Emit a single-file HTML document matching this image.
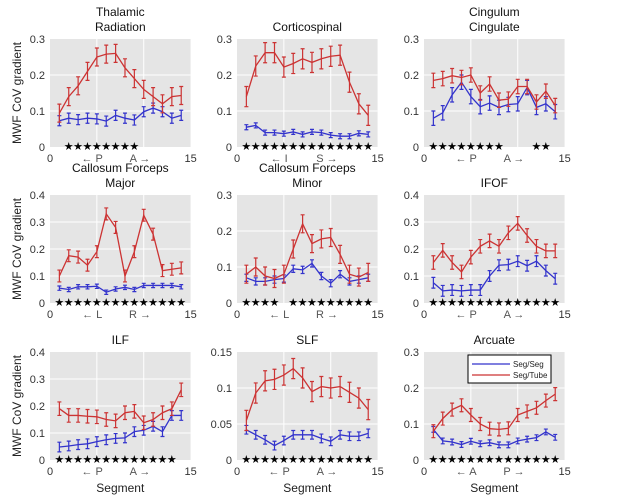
<!DOCTYPE html>
<html><head><meta charset="utf-8"><style>
body{margin:0;background:#fff}
svg{display:block;font-family:"Liberation Sans",sans-serif}
</style></head><body>
<svg id="fig" width="620" height="500" viewBox="0 0 620 500"></svg>
<script>
const titles=[["Thalamic","Radiation"],["Corticospinal"],["Cingulum","Cingulate"],["Callosum Forceps","Major"],["Callosum Forceps","Minor"],["IFOF"],["ILF"],["SLF"],["Arcuate"]];
const yMax=[0.3,0.3,0.3,0.4,0.3,0.4,0.4,0.15,0.3];
const yTicks=[["0","0.1","0.2","0.3"],["0","0.1","0.2","0.3"],["0","0.1","0.2","0.3"],["0","0.1","0.2","0.3","0.4"],["0","0.1","0.2","0.3"],["0","0.1","0.2","0.3","0.4"],["0","0.1","0.2","0.3","0.4"],["0","0.05","0.1","0.15"],["0","0.1","0.2","0.3"]];
const dirLabels=[["← P","A →"],["← I","S →"],["← P","A →"],["← L","R →"],["← L","R →"],["← P","A →"],["← P","A →"],["← P","A →"],["← A","P →"]];
const segments=[1,2,3,4,5,6,7,8,9,10,11,12,13,14];
const redVals=[
[0.094,0.14,0.17,0.21,0.25,0.258,0.26,0.22,0.19,0.16,0.14,0.12,0.14,0.143],
[0.14,0.225,0.262,0.262,0.222,0.232,0.245,0.235,0.245,0.252,0.255,0.18,0.12,0.088],
[0.185,0.19,0.198,0.193,0.2,0.15,0.175,0.13,0.133,0.168,0.168,0.125,0.155,0.115],
[0.1,0.175,0.17,0.14,0.19,0.33,0.28,0.1,0.19,0.325,0.255,0.12,0.125,0.13],
[0.08,0.1,0.075,0.068,0.08,0.15,0.22,0.165,0.178,0.182,0.135,0.08,0.072,0.085],
[0.15,0.195,0.15,0.115,0.17,0.21,0.23,0.21,0.26,0.295,0.25,0.21,0.193,0.193],
[0.19,0.165,0.165,0.162,0.16,0.15,0.145,0.175,0.18,0.138,0.15,0.175,0.19,0.26],
[0.055,0.093,0.11,0.112,0.118,0.127,0.114,0.095,0.102,0.1,0.102,0.094,0.086,0.07],
[0.08,0.115,0.14,0.152,0.125,0.1,0.087,0.085,0.088,0.125,0.135,0.145,0.165,0.183]];
const blueVals=[
[0.073,0.08,0.076,0.08,0.078,0.072,0.088,0.08,0.075,0.098,0.108,0.098,0.08,0.088],
[0.055,0.06,0.04,0.04,0.037,0.042,0.035,0.042,0.04,0.033,0.03,0.03,0.038,0.035],
[0.08,0.095,0.145,0.18,0.14,0.112,0.122,0.11,0.118,0.12,0.165,0.11,0.12,0.098],
[0.055,0.05,0.06,0.06,0.062,0.04,0.052,0.058,0.05,0.065,0.065,0.065,0.065,0.06],
[0.07,0.06,0.06,0.065,0.068,0.095,0.092,0.11,0.075,0.055,0.08,0.06,0.065,0.07],
[0.075,0.045,0.048,0.045,0.048,0.048,0.1,0.14,0.142,0.155,0.138,0.155,0.12,0.09],
[0.048,0.052,0.057,0.06,0.068,0.075,0.08,0.082,0.105,0.11,0.125,0.105,0.165,0.165],
[0.042,0.035,0.028,0.02,0.027,0.035,0.035,0.035,0.03,0.026,0.035,0.033,0.033,0.037],
[0.085,0.053,0.05,0.043,0.052,0.045,0.048,0.042,0.042,0.053,0.058,0.062,0.078,0.063]];
const redErr=[0.025,0.028,0.02,0.022,0.025,0.025,0.025,0.014,0.018];
const blueErr=[0.014,0.007,0.02,0.008,0.01,0.02,0.018,0.006,0.008];
const stars=[[2,3,4,5,6,7,8,9],[1,2,3,4,5,6,7,8,9,10,11,12,13,14],[1,2,3,4,5,6,7,8,12,13],[1,2,3,4,5,6,7,8,9,10,11,12,13,14],[1,2,3,4,6,7,8,9,10,11,12,13,14],[1,2,3,4,5,6,7,8,9,10,11,12,13,14],[1,2,3,4,5,6,7,8,9,10,11,12,13],[1,2,3,4,5,6,7,8,9,10,11,12,13,14],[1,2,3,4,5,6,7,8,9,10,11,12,13,14]];
const xTicks=["0","15"];

const NS="http://www.w3.org/2000/svg";
const svg=document.getElementById('fig');
function mk(tag,attrs,parent,text){const e=document.createElementNS(NS,tag);for(const k in attrs)e.setAttribute(k,attrs[k]);if(text!==undefined)e.textContent=text;(parent||svg).appendChild(e);return e;}
const colL=[50,237,424],rowT=[39,195,352],W=140.6,H=108;
const RED="#cc3333",BLUE="#3333cc";
for(let p=0;p<9;p++){
  const L=colL[p%3],T=rowT[Math.floor(p/3)];
  const xs=v=>L+v/15*W, ys=v=>T+H-v/yMax[p]*H;
  const g=mk('g',{});
  
  
  const bg=mk('rect',{x:L,y:T,width:W,height:H,fill:'#e5e5e5'},g);
  
  
  [5,10].forEach(v=>mk('line',{x1:xs(v),x2:xs(v),y1:T,y2:T+H,stroke:'#fff','stroke-width':1},g));
  yTicks[p].forEach((t,i)=>{const v=parseFloat(t);const y=ys(v);
    if(i>0&&v<yMax[p])mk('line',{x1:L,x2:L+W,y1:y,y2:y,stroke:'#fff','stroke-width':1},g);
    const tl=mk('text',{x:L-5,y:y+4,'font-size':11,fill:'#333','text-anchor':'end'},g,t);
    
    });
  xTicks.forEach(t=>{const tl=mk('text',{x:xs(parseFloat(t)),y:T+H+15,'font-size':11,fill:'#333','text-anchor':'middle'},g,t);
    
    });
  [4.5,9.6].forEach((v,i)=>{const tl=mk('text',{x:xs(v),y:T+H+15,'font-size':11,fill:'#555','text-anchor':'middle'},g,dirLabels[p][i]);
    
    });
  titles[p].forEach((t,i)=>{const n=titles[p].length;const tt=mk('text',{x:L+W/2,y:T-8-(n-1-i)*15,'font-size':12,fill:'#111','text-anchor':'middle'},g,t);
    
    });
  [[blueVals[p],blueErr[p],BLUE,'seg-seg'],[redVals[p],redErr[p],RED,'seg-tube']].forEach(([vals,err,col,nm])=>{
    const pts=vals.map((v,i)=>xs(segments[i])+','+ys(v)).join(' ');
    const pl=mk('polyline',{points:pts,fill:'none',stroke:col,'stroke-width':1.3},g);
    
    
    vals.forEach((v,i)=>{const x=xs(segments[i]);const y1=ys(v+err),y2=ys(Math.max(0,v-err));
      const eb=mk('path',{d:`M${x},${y1}V${y2}M${x-2},${y1}H${x+2}M${x-2},${y2}H${x+2}`,stroke:col,'stroke-width':1.2,fill:'none'},g);
      
      });
  });
  stars[p].forEach(s=>{const st=mk('text',{x:xs(s),y:T+H+3,'font-size':11,fill:'#000','text-anchor':'middle'},g,'★');
    
    });
}
[0,1,2].forEach(r=>{const cy=rowT[r]+H/2;const t=mk('text',{x:21,y:cy,'font-size':12,fill:'#222','text-anchor':'middle',transform:`rotate(-90 21 ${cy})`},svg,'MWF CoV gradient');
  
  });
colL.forEach(L=>{const t=mk('text',{x:L+W/2,y:492,'font-size':12,fill:'#222','text-anchor':'middle'},svg,'Segment');
  
  });
const lg=mk('g',{});


mk('rect',{x:468,y:355,width:83,height:28,fill:'#fff',stroke:'#000','stroke-width':1},lg);
[[BLUE,'Seg/Seg',364],[RED,'Seg/Tube',375]].forEach(([c,t,y])=>{
  mk('line',{x1:472,x2:510,y1:y,y2:y,stroke:c,'stroke-width':1.3},lg);
  const e=mk('text',{x:513,y:y+3,'font-size':8,fill:'#222'},lg,t);
  
  });
</script>
</body></html>
